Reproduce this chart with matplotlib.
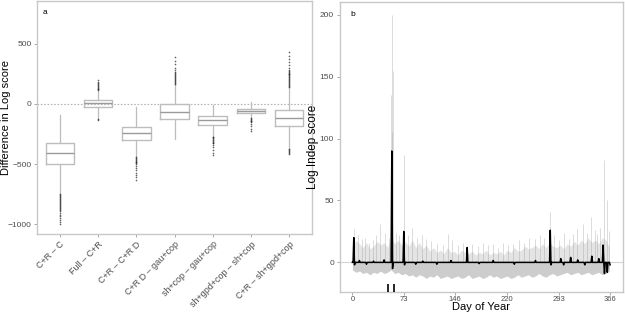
import matplotlib
matplotlib.use("Agg")
import matplotlib.pyplot as plt
import numpy as np

plt.rcParams["font.family"] = ["Liberation Sans", "DejaVu Sans"]

# ---- panel a: boxplot summaries ----
box_labels = ["C+R – C", "Full – C+R", "C+R – C+R D", "C+R D – gau+cop",
              "sh+cop – gau+cop", "sh+gpd+cop – sh+cop", "C+R – sh+gpd+cop"]
box_q1 = [-498, -23, -296, -123, -173, -76, -185]
box_med = [-407, 7, -240, -65, -132, -57, -118]
box_q3 = [-327, 35, -190, -4, -98, -40, -48]
box_wlo = [-750, -122, -443, -290, -270, -118, -373]
box_whi = [-90, 112, -21, 165, -12, 15, 140]
box_fliers = [
    [-752, -760, -768, -776, -784, -792, -800, -808, -816, -824, -832, -840,
     -848, -856, -864, -872, -880, -892, -906, -921, -937, -952, -968, -984, -1000],
    [114, 121, 128, 135, 142, 149, 156, 163, 174, 186, 202, -128, -134],
    [-445, -452, -459, -466, -473, -480, -487, -494, -501, -515, -532, -551,
     -572, -593, -611, -629],
    [168, 176, 184, 192, 200, 208, 216, 224, 232, 240, 248, 256, 264, 280,
     302, 330, 360, 390],
    [-272, -279, -286, -293, -300, -307, -314, -321, -328, -345, -362, -384,
     -406, -429],
    [-120, -126, -132, -138, -144, -150, -166, -186, -205, -221],
    [142, 150, 158, 166, 174, 182, 190, 198, 206, 214, 222, 230, 238, 246, 254,
     262, 270, 278, 286, 302, 322, 346, 372, 402, 432,
     -378, -386, -394, -402, -410, -416],
]

# ---- panel b: daily log independence score ----
env_days = list(range(0, 370, 5))
env_upper = [12, 18, 15, 12, 16, 11, 13, 17, 14, 16, 12, 20, 15, 18, 14, 17,
             13, 18, 12, 16, 11, 14, 9, 12, 8, 10, 7, 12, 8, 9, 6, 10, 8, 7,
             9, 6, 8, 7, 10, 6, 8, 7, 9, 6, 10, 8, 12, 9, 10, 13, 11, 12, 14,
             11, 15, 12, 16, 13, 12, 14, 11, 15, 13, 17, 14, 18, 15, 20, 16,
             18, 15, 20, 18, 12]
env_lower = [-6, -8, -7, -9, -8, -10, -8, -9, -7, -9, -8, -6, -9, -8, -10, -9,
             -11, -10, -12, -10, -11, -13, -11, -12, -10, -13, -12, -11, -13,
             -12, -11, -13, -12, -10, -13, -12, -11, -13, -12, -10, -12, -11,
             -13, -12, -11, -13, -12, -10, -12, -11, -10, -12, -11, -9, -11,
             -12, -10, -9, -11, -10, -9, -8, -10, -9, -8, -10, -9, -8, -10,
             -9, -8, -10, -9, -7]
spike_days = [2, 8, 13, 18, 24, 29, 33, 39, 46, 52, 55, 56, 57, 55, 56, 62, 66,
              73, 79, 85, 92, 99, 105, 112, 120, 128, 136, 141, 150, 157, 163,
              170, 178, 186, 193, 200, 207, 214, 221, 228, 236, 244, 251, 259,
              266, 272, 281, 287, 294, 300, 307, 313, 319, 327, 333, 339, 344,
              348, 352, 358, 361, 364]
spike_vals = [27, 22, 19, 20, 16, 18, 22, 31, 24, 20, 55, 200, 155, 135, 105, 24,
              22, 87, 22, 28, 20, 22, 19, 17, 15, 14, 23, 18, 14, 16, 12, 15, 13,
              16, 14, 15, 12, 16, 14, 15, 18, 16, 20, 19, 22, 20, 41, 22, 18, 24,
              19, 23, 27, 31, 24, 37, 26, 23, 28, 83, 50, 25]
black_days = [2, 3, 10, 20, 30, 45, 56, 57, 73, 74, 90, 100, 120, 140, 163,
              180, 200, 230, 260, 281, 282, 296, 300, 310, 320, 330, 340, 350,
              356, 358, 362, 366]
black_vals = [20, -2, 1.5, -1.5, 1, 2, 90, -5, 25, -2, -1.5, 1, -1.5, 1.5, 12,
              -1, 1.5, -1.5, 1.5, 26, -2, 3, -2, 4, 2, -2, 5, 3, 14, -9, -8, -2]
rug_days = [50, 59]
b_ticks = [0, 73, 146, 220, 293, 366]

GREY_TXT = "#4d4d4d"
BORDER = "#c8c8c8"

fig = plt.figure(figsize=(6.25, 3.13), dpi=100)
axa = fig.add_axes([0.0592, 0.2524, 0.44, 0.7444])
axb = fig.add_axes([0.5432, 0.068, 0.4536, 0.9265])

for ax in (axa, axb):
    for s in ax.spines.values():
        s.set_color(BORDER)
        s.set_linewidth(1.0)
    ax.tick_params(length=2.5, width=0.6, color="#999999", labelcolor=GREY_TXT,
                   labelsize=6, pad=1.5)
axb.tick_params(axis="x", labelsize=5.5, pad=0.8, length=2)

# panel a
stats = []
for i in range(len(box_labels)):
    stats.append(dict(q1=box_q1[i], med=box_med[i], q3=box_q3[i],
                      whislo=box_wlo[i], whishi=box_whi[i],
                      fliers=box_fliers[i], label=box_labels[i]))
axa.axhline(0, color="#b5b5b5", lw=0.8, ls=(0, (1.5, 1.5)), zorder=0)
pos = np.arange(1, len(box_labels) + 1)
axa.bxp(stats, positions=pos, widths=0.75, showcaps=False,
        boxprops=dict(color="#bdbdbd", lw=1.0),
        whiskerprops=dict(color="#bdbdbd", lw=0.9),
        medianprops=dict(color="#9a9a9a", lw=1.0),
        flierprops=dict(marker="o", markersize=1.2, markerfacecolor="#222222",
                        markeredgecolor="none", alpha=0.7))
axa.set_xlim(0.4, 7.6)
axa.set_ylim(-1083, 858)
axa.set_yticks([500, 0, -500, -1000])
axa.set_xticks(pos)
axa.set_xticklabels(box_labels, rotation=45, ha="right",
                    rotation_mode="anchor", fontsize=6.5)
axa.set_ylabel("Difference in Log score", fontsize=8)
axa.yaxis.set_label_coords(-0.096, 0.5)
axa.text(0.6, 760, "a", fontsize=6, va="center", ha="center")

# panel b
axb.axhline(0, color="#d5d5d5", lw=0.8, zorder=0)
axb.fill_between(env_days, 0, env_upper, color="#e4e4e4", lw=0, zorder=1)
axb.fill_between(env_days, env_lower, 0, color="#cdcdcd", lw=0, zorder=1)
axb.vlines(spike_days, 0, spike_vals, color="#9a9a9a", lw=0.7, alpha=0.35,
           zorder=2)
black = np.zeros(367)
black[black_days] = black_vals
axb.plot(np.arange(367), black, color="black", lw=1.1, zorder=3)
axb.vlines(rug_days, -23.7, -17.5, color="black", lw=1.2, zorder=4)
axb.set_xlim(-18.3, 384.3)
axb.set_ylim(-23.7, 210.6)
axb.set_xticks(b_ticks)
axb.set_yticks([0, 50, 100, 150, 200])
axb.set_xlabel("Day of Year", fontsize=8)
axb.xaxis.set_label_coords(0.5, -0.037)
axb.set_ylabel("Log Indep score", fontsize=8.5)
axb.yaxis.set_label_coords(-0.072, 0.5)
axb.text(0, 200, "b", fontsize=6, va="center", ha="center")

fig.savefig("out.png", dpi=100)
